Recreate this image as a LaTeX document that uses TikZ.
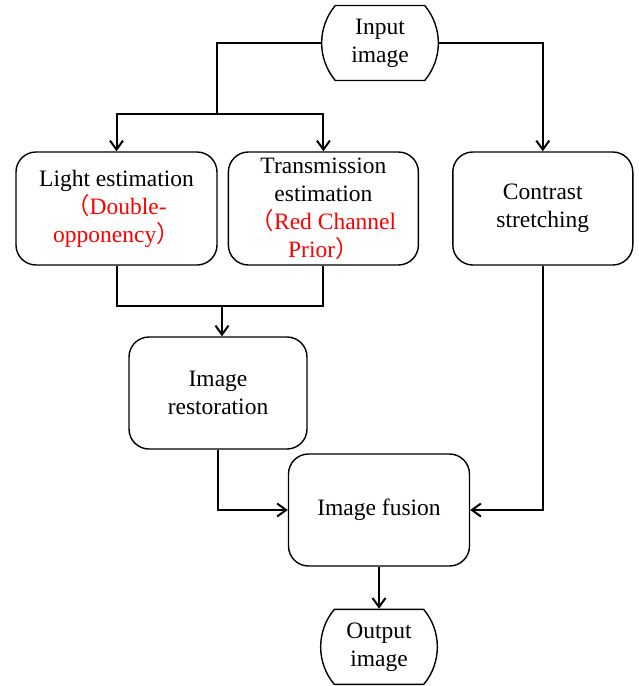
\documentclass[tikz,border=0pt]{standalone}
\usepackage{fontspec}
\setmainfont{Liberation Serif}
\newfontfamily\cjk{Noto Sans CJK SC}
\usetikzlibrary{arrows.meta, positioning, shapes.misc}

\begin{document}
\begin{tikzpicture}[x=1pt, y=1pt, >={Straight Barb[length=9pt,width=13pt]}, line width=2pt,
    font=\fontsize{23.5}{28}\selectfont,
    procbox/.style={draw, line width=1.4pt, rounded corners=20pt, align=center, inner sep=2pt},
    termbox/.style={draw, line width=1.4pt, rounded rectangle, rounded rectangle arc length=80,
      minimum height=75pt, align=center, inner xsep=-13pt, inner ysep=0pt}]
    \useasboundingbox (0,0) rectangle (638,-686);

    % Input
    \node[termbox, inner xsep=-19pt] (input) at (380,-43) {Input\\image};

    % Estimation stage
    \node[procbox, minimum width=201pt, minimum height=113pt] (light) at (116.5,-208.5)
      {Light estimation\\\textcolor{red}{{\cjk （}Double-}\\\textcolor{red}{opponency{\cjk ）}}};
    \node[procbox, minimum width=190pt, minimum height=113pt, right=10pt of light] (trans)
      {Transmission\\estimation\\\textcolor{red}{{\cjk （}Red Channel}\\\textcolor{red}{Prior{\cjk ）}}};
    \node[procbox, minimum width=180pt, minimum height=113pt, right=33pt of trans] (contrast)
      {Contrast\\stretching};

    % Restoration and fusion
    \node[procbox, minimum width=178pt, minimum height=112pt] (restore) at (218,-393) {Image\\restoration};
    \node[procbox, minimum width=181pt, minimum height=112pt] (fusion) at (379,-510) {Image fusion};

    % Output
    \node[termbox, below=42pt of fusion] (output) {Output\\image};

    \coordinate (split) at (217,-114);
    \coordinate (merge) at (222,-306);

    % Arrows
    \draw (input.west) -| (split);
    \draw[->] (split) -| (light.north);
    \draw[->] (split) -| (trans.north);
    \draw[->] (input.east) -| (contrast.north);

    \draw (light.south) |- (merge) -| (trans.south);
    \draw[->] (merge) -- (merge |- restore.north);

    \draw[->] (restore.south) |- (fusion.west);
    \draw[->] (contrast.south) |- (fusion.east);
    \draw[->] (fusion.south) -- (output.north);
\end{tikzpicture}
\end{document}
